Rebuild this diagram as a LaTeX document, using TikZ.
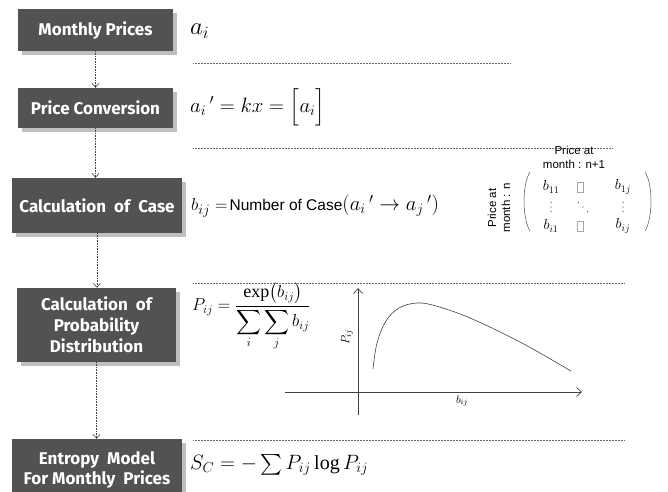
\documentclass[tikz,border=0pt]{standalone}
\usepackage{amsmath}
\usepackage{fontspec}
\setmainfont{Liberation Serif}
\newfontfamily\boxfont{Fira Sans}[BoldFont={Fira Sans Bold}]
\newfontfamily\arialfont{Liberation Sans}
\usetikzlibrary{arrows.meta,shadows}
\begin{document}
\begin{tikzpicture}[x=1pt,y=-1pt,
  stepbox/.style={fill=black!68,text=white,inner sep=0pt,align=center,
    font=\boxfont\bfseries\fontsize{17}{21}\selectfont,
    drop shadow={shadow xshift=3.5pt,shadow yshift=-3.5pt,fill=black!25,opacity=1}},
  flow/.style={densely dotted,black!75,line width=0.6pt,-{Straight Barb[length=4pt,width=7pt]}},
  sep/.style={densely dotted,black!60,line width=0.5pt},
  axis/.style={black!75,line width=0.7pt,-{Straight Barb[length=5pt,width=9pt]}},
  eq/.style={anchor=west,inner sep=0pt},
  ent/.style={font=\fontsize{14}{15}\selectfont,inner sep=0pt},
  lbl/.style={font=\arialfont\fontsize{11.5}{12}\selectfont,inner sep=0pt,align=center},
  blank/.style={draw=black!35,line width=0.4pt,minimum width=6pt,minimum height=10pt,inner sep=0pt},
  dotmark/.style={fill=black!70}]
\useasboundingbox (0,0) rectangle (668,491);

% boxes
\node[stepbox,minimum width=155pt,minimum height=42pt] (b1) at (95.5,30) {Monthly Prices};
\node[stepbox,minimum width=155pt,minimum height=40pt] (b2) at (95.5,108) {Price Conversion};
\node[stepbox,minimum width=170pt,minimum height=55pt] (b3) at (97,205.5) {Calculation\ \ of\ \ Case};
\node[stepbox,minimum width=159pt,minimum height=74pt] (b4) at (96.5,325) {Calculation\ \ of\\Probability\\Distribution};
\node[stepbox,minimum width=170pt,minimum height=62pt,font=\boxfont\bfseries\fontsize{17}{20}\selectfont] (b5) at (97,470) {Entropy\ \ Model\\For Monthly\ \ Prices};

% connectors
\draw[flow] (b1.south) -- (b1.south |- b2.north);
\draw[flow] (b2.south) -- (b2.south |- b3.north);
\draw[flow] (b3.south) -- (b3.south |- b4.north);
\draw[flow] (b4.south) -- (b4.south |- b5.north);

% separators
\coordinate (s1a) at (193,63);  \coordinate (s1b) at (510,63);
\coordinate (s2a) at (193,148); \coordinate (s2b) at (613,148);
\coordinate (s3a) at (193,283); \coordinate (s3b) at (625,283);
\coordinate (s4a) at (193,440); \coordinate (s4b) at (625,440);
\draw[sep] (s1a) -- (s1b);
\draw[sep] (s2a) -- (s2b);
\draw[sep] (s3a) -- (s3b);
\draw[sep] (s4a) -- (s4b);

% equations
\node[eq,font=\fontsize{23}{24}\selectfont] (e1) at (190,31) {$a_i$};
\node[eq,font=\fontsize{21}{24}\selectfont] (e2) at (190,107) {$a_i{\,}' = kx = \Bigl[a_i\Bigr]$};
\node[eq] (e3) at (191,206) {\fontsize{19}{20}\selectfont$b_{ij} =$\hspace{2pt}\arialfont\fontsize{15.5}{16}\selectfont Number of Case\fontsize{21}{22}\selectfont$(a_i{\,}' \rightarrow a_j{\,}')$};
\node[eq,font=\fontsize{18}{20}\selectfont] (e4) at (192,317) {$P_{ij} = \dfrac{\exp\bigl(b_{ij}\bigr)}{\displaystyle\sum_{i}\sum_{j} b_{ij}}$};
\node[eq,font=\fontsize{20}{22}\selectfont] (e5) at (190,465) {$S_C = -\sum P_{ij}\log P_{ij}$};

% matrix
\node[lbl] (top) at (574,157) {Price at\\[2pt]month : n+1};
\node[lbl,rotate=90] (side) at (499,208) {Price at\\[2pt]month : n};
\node[ent] (m11) at (551,187) {$b_{11}$};
\node[blank] (m12) at (580,187) {};
\node[ent] (m13) at (623,187) {$b_{1j}$};
\node[ent] (m31) at (551,226) {$b_{i1}$};
\node[blank] (m32) at (580,226) {};
\node[ent] (m33) at (623,226) {$b_{ij}$};
\foreach \dy in {-4.5,0,4.5} {
  \fill[dotmark] (551,207+\dy) circle (0.7pt);
  \fill[dotmark] (623,207+\dy) circle (0.7pt);
  \fill[dotmark] (583+\dy,207+\dy) circle (0.7pt);
}
\draw[black!70,line width=0.5pt] (530,172) .. controls (522,184) and (522,218) .. (530,231);
\draw[black!70,line width=0.5pt] (645,172) .. controls (653,184) and (653,218) .. (645,231);

% graph
\coordinate (xo) at (285,392); \coordinate (xe) at (582,392);
\coordinate (yo) at (358,415); \coordinate (ye) at (358,288);
\draw[axis] (xo) -- (xe);
\draw[axis] (yo) -- (ye);
\draw[black!75,line width=0.6pt] plot[smooth,tension=0.6] coordinates
  {(373,369) (377,343) (386,321) (399,308) (417,303) (436,306) (470,318) (520,342) (571,371)};
\node[font=\fontsize{13}{14}\selectfont,rotate=90,inner sep=0pt] (py) at (347,337) {$P_{ij}$};
\node[font=\fontsize{11}{12}\selectfont,inner sep=0pt] (bx) at (462,401) {$b_{ij}$};
\end{tikzpicture}
\end{document}
